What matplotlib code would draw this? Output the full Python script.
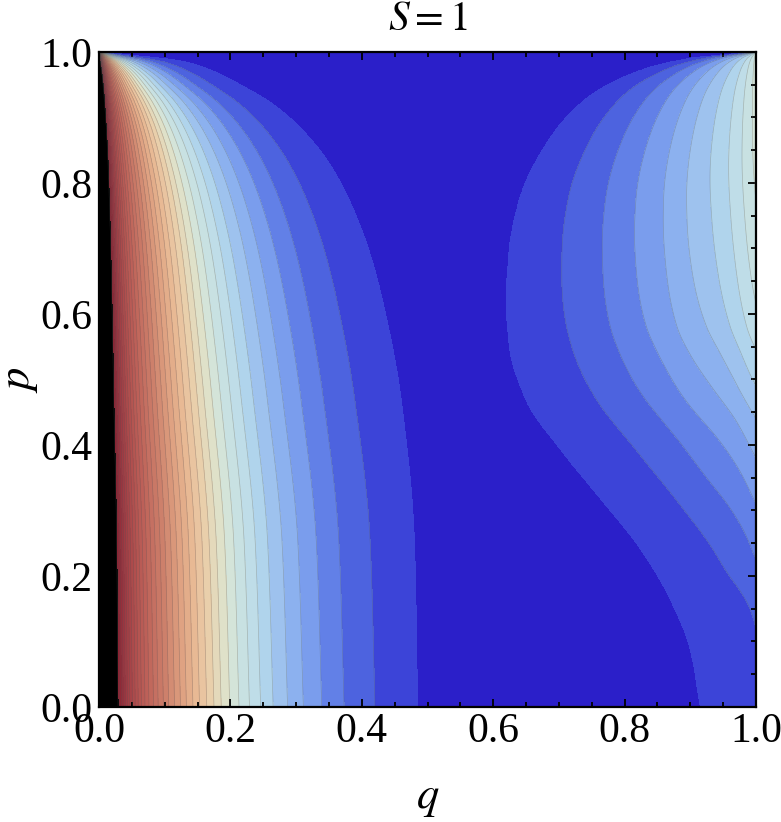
import numpy as np
import matplotlib.pyplot as plt
from matplotlib.colors import LinearSegmentedColormap, ListedColormap, BoundaryNorm

plt.rcParams['font.family'] = ['Liberation Serif', 'DejaVu Serif']
plt.rcParams['mathtext.fontset'] = 'stix'

# left family: where each contour meets the bottom edge (outermost first),
# the last one is where the black (clipped) strip starts
left_q_bottom = [0.485, 0.420, 0.373, 0.339, 0.311, 0.287, 0.265, 0.246, 0.229, 0.213,
                 0.199, 0.186, 0.175, 0.164, 0.153, 0.143, 0.133, 0.124, 0.115, 0.106,
                 0.098, 0.090, 0.083, 0.076, 0.070, 0.0646, 0.0597, 0.0551, 0.0508,
                 0.0469, 0.0433, 0.0400, 0.0369, 0.0341, 0.0315, 0.0290]

# left contours pull in toward (0, 1): q(p) / q(p=0) for the outermost contour
# and for the edge of the black strip
left_shape_p = [0.0, 0.25, 0.47, 0.62, 0.70, 0.774, 0.83, 0.88, 0.92, 0.95, 0.97, 0.985, 1.0]
left_shape_outer = [1.0, 0.990, 0.948, 0.890, 0.845, 0.785, 0.722, 0.640, 0.546, 0.443,
                    0.361, 0.268, 0.0]
left_shape_black = [1.0, 0.93, 0.78, 0.68, 0.62, 0.55, 0.48, 0.40, 0.31, 0.22, 0.15, 0.08, 0.0]

# right family: boundary of the dark region, and the level reached at q = 1
right_p = [0.0, 0.087, 0.163, 0.24, 0.316, 0.39, 0.469, 0.55, 0.62, 0.70, 0.774, 0.85,
           0.927, 0.97, 0.99, 1.0]
right_q_dark = [0.915, 0.900, 0.870, 0.825, 0.765, 0.705, 0.650, 0.625, 0.620, 0.625,
                0.640, 0.675, 0.740, 0.820, 0.900, 1.0]
edge_p = [0.0, 0.118, 0.225, 0.31, 0.38, 0.44, 0.49, 0.54, 0.58, 0.65, 0.75, 0.85, 1.0]
edge_level = [0.8, 1.0, 2.0, 3.0, 4.0, 5.0, 6.0, 6.9, 7.6, 8.3, 8.9, 9.3, 9.5]

# spacing of the right contours between the dark boundary (t=1) and q=1 (t=0)
profile_t = [0.0, 0.10, 0.18, 0.28, 0.38, 0.50, 0.63, 0.79, 1.0]
profile_g = [1.0, 0.795, 0.68, 0.57, 0.455, 0.34, 0.227, 0.114, 0.0]

# band colours, by band index (0 = dark blue minimum)
color_idx = [0, 1, 2, 3, 4, 5, 6, 7, 8, 9, 10, 11, 13, 15, 17, 20, 24, 28, 32, 35]
color_hex = ['#2b1fc9', '#3d45d9', '#4e66e0', '#6584e8', '#7a9ded', '#8db2ef', '#a0c4ee',
             '#b0d4ec', '#c0dde8', '#c9e1e2', '#d4e4d9', '#dfe1c9', '#e9cfab', '#e8b994',
             '#dfa282', '#cd806b', '#bd6058', '#ad4a4b', '#9c3540', '#8e2232']


def pchip(x, xp, fp):
    # monotone cubic through the read points, so the contours come out smooth
    xp = np.asarray(xp, float)
    fp = np.asarray(fp, float)
    h = np.diff(xp)
    d = np.diff(fp) / h
    m = np.zeros_like(fp)
    for i in range(1, len(xp) - 1):
        if d[i - 1] * d[i] > 0:
            w1 = 2 * h[i] + h[i - 1]
            w2 = h[i] + 2 * h[i - 1]
            m[i] = (w1 + w2) / (w1 / d[i - 1] + w2 / d[i])
    m[0] = d[0]
    m[-1] = d[-1]
    x = np.clip(np.asarray(x, float), xp[0], xp[-1])
    i = np.clip(np.searchsorted(xp, x) - 1, 0, len(xp) - 2)
    t = (x - xp[i]) / h[i]
    h00 = 2 * t**3 - 3 * t**2 + 1
    h10 = t**3 - 2 * t**2 + t
    h01 = -2 * t**3 + 3 * t**2
    h11 = t**3 - t**2
    return h00 * fp[i] + h10 * h[i] * m[i] + h01 * fp[i + 1] + h11 * h[i] * m[i + 1]


def build_field(n=801):
    q = np.linspace(0, 1, n)
    p = np.linspace(0, 1, n)
    Q, P = np.meshgrid(q, p)

    nlev = len(left_q_bottom)
    k = np.arange(nlev)
    w = (k / (nlev - 1)) ** 0.6
    s_out = np.clip(pchip(p, left_shape_p, left_shape_outer), 1e-6, 1)
    s_blk = np.clip(pchip(p, left_shape_p, left_shape_black), 1e-6, 1)
    left = np.empty_like(Q)
    qb = np.array(left_q_bottom)
    for r in range(n):
        qk = qb * s_out[r] ** (1 - w) * s_blk[r] ** w
        xp = qk[::-1]
        fp = k[::-1].astype(float)
        row = np.interp(q, xp, fp)
        row = np.where(q > xp[-1], -(q - xp[-1]) / 0.06, row)
        row = np.where(q < xp[0], fp[0] + (xp[0] - q) / 0.003, row)
        left[r] = row

    v0 = 1 - pchip(P, right_p, right_q_dark)
    e = pchip(P, edge_p, edge_level)
    t = (1 - Q) / np.maximum(v0, 1e-9)
    g = pchip(np.clip(t, 0, 1), profile_t, profile_g)
    right = np.where(t > 1, -(t - 1), e * g)

    return Q, P, np.maximum(left, right), nlev


Q, P, Z, nlev = build_field()

base = LinearSegmentedColormap.from_list(
    'thermo', [(i / 35, c) for i, c in zip(color_idx, color_hex)])
band_colors = [base(i / (nlev - 1)) for i in range(nlev)] + ['black']
cmap = ListedColormap(band_colors)
bounds = [-1e6] + list(range(nlev)) + [1e6]
norm = BoundaryNorm(bounds, cmap.N)

fig = plt.figure(figsize=(7.81, 8.22), dpi=100)
ax = fig.add_axes([0.1268, 0.140, 0.8412, 0.7968])

ax.contourf(Q, P, Z, levels=bounds, cmap=cmap, norm=norm)
ax.contour(Q, P, Z, levels=list(range(1, nlev)), colors='#5a5a5a', linewidths=0.5, alpha=0.35)

ax.set_xlim(0, 1)
ax.set_ylim(0, 1)
ax.set_xticks(np.arange(0, 1.01, 0.2))
ax.set_yticks(np.arange(0, 1.01, 0.2))
ax.set_xticks(np.arange(0, 1.01, 0.05), minor=True)
ax.set_yticks(np.arange(0, 1.01, 0.05), minor=True)
ax.xaxis.set_major_formatter(plt.FormatStrFormatter('%.1f'))
ax.yaxis.set_major_formatter(plt.FormatStrFormatter('%.1f'))
ax.tick_params(which='both', direction='in', top=True, right=True, width=1.3, labelsize=30)
ax.tick_params(which='major', length=6)
ax.tick_params(which='minor', length=3.5)
ax.tick_params(axis='x', pad=4)
ax.tick_params(axis='y', pad=5)
for sp in ax.spines.values():
    sp.set_linewidth(1.6)

ax.set_title(r'$S=1$', fontsize=30, pad=16)
ax.set_xlabel(r'$q$', fontsize=32, labelpad=20)
ax.set_ylabel(r'$p$', fontsize=32, labelpad=0)

fig.savefig('out.png', dpi=100)
